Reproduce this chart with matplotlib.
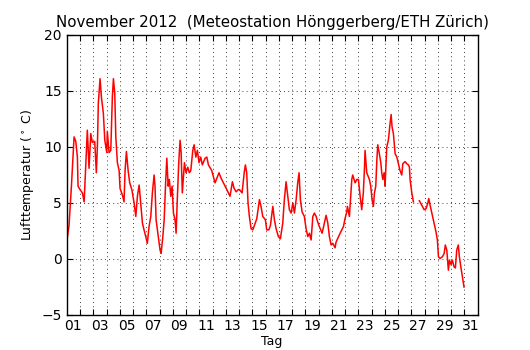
import numpy as np
import matplotlib
matplotlib.use("Agg")
import matplotlib.pyplot as plt

# time in days since 1 Nov 2012 00:00, temperature in deg C
tage = [0.00, 0.17, 0.35, 0.55, 0.68, 0.80, 0.85, 1.00, 1.18, 1.31, 1.43, 1.55, 1.68, 1.81, 1.93,
        2.11, 2.23, 2.31, 2.38, 2.51, 2.61, 2.76, 2.87, 3.02, 3.06, 3.19, 3.32, 3.44, 3.52, 3.62,
        3.70, 3.82, 3.95, 4.02, 4.20, 4.32, 4.40, 4.50, 4.63, 4.75, 4.91, 5.08, 5.21, 5.33, 5.46,
        5.58, 5.71, 5.83, 5.96, 6.08, 6.21, 6.34, 6.46, 6.59, 6.66, 6.74, 6.91, 7.04, 7.12, 7.25,
        7.35, 7.47, 7.55, 7.65, 7.74, 7.85, 7.95, 8.05, 8.17, 8.25, 8.35, 8.45, 8.55, 8.63, 8.72,
        8.80, 8.88, 9.00, 9.13, 9.25, 9.36, 9.51, 9.61, 9.74, 9.86, 9.98, 10.11, 10.23, 10.44,
        10.57, 10.69, 10.94, 11.19, 11.32, 11.49, 11.65, 11.82, 12.08, 12.32, 12.50, 12.63, 12.78,
        12.95, 13.03, 13.23, 13.40, 13.48, 13.58, 13.68, 13.78, 13.91, 14.04, 14.16, 14.34, 14.54,
        14.66, 14.79, 14.99, 15.09, 15.25, 15.37, 15.55, 15.67, 15.80, 15.97, 16.12, 16.30, 16.42,
        16.55, 16.68, 16.80, 16.93, 17.06, 17.18, 17.31, 17.43, 17.53, 17.63, 17.76, 17.93, 18.06,
        18.19, 18.31, 18.44, 18.57, 18.69, 18.82, 18.94, 19.06, 19.27, 19.44, 19.57, 19.70, 19.82,
        19.95, 20.08, 20.25, 20.32, 20.63, 20.88, 21.00, 21.13, 21.18, 21.33, 21.43, 21.51, 21.58,
        21.68, 21.76, 21.89, 22.01, 22.14, 22.26, 22.38, 22.46, 22.51, 22.64, 22.84, 22.94, 23.04,
        23.14, 23.22, 23.32, 23.40, 23.47, 23.59, 23.70, 23.77, 23.85, 23.95, 24.02, 24.10, 24.15,
        24.27, 24.40, 24.48, 24.55, 24.65, 24.78, 24.91, 25.03, 25.15, 25.28, 25.36, 25.53, 25.66,
        25.78, 25.86, 25.91, 26.04, 26.16, 26.40, 26.61, 26.79, 26.97, 27.12, 27.25, 27.32, 27.42,
        27.55, 27.72, 27.87, 27.97, 28.05, 28.17, 28.35, 28.48, 28.57, 28.68, 28.80, 28.88, 29.00,
        29.10, 29.23, 29.33, 29.43, 29.55, 29.63, 29.74, 29.86, 29.98]
temp = [1.55, 3.0, 6.5, 10.9, 10.5, 9.1, 6.5, 6.2, 5.9, 5.1, 8.2, 11.5, 8.1, 11.2, 10.4,
        10.5, 7.7, 10.0, 13.9, 16.1, 14.5, 13.0, 10.6, 9.5, 11.4, 9.5, 9.7, 14.5, 16.1, 14.8,
        10.9, 8.6, 7.9, 6.3, 5.7, 5.1, 7.9, 9.6, 7.9, 6.8, 6.2, 5.0, 3.8, 5.6, 6.6,
        5.0, 3.2, 2.6, 2.0, 1.4, 2.9, 3.8, 5.9, 7.5, 6.5, 3.5, 2.0, 0.8, 0.5, 2.0,
        3.5, 7.1, 9.0, 6.5, 7.1, 5.6, 6.5, 4.1, 3.5, 2.3, 5.6, 8.6, 10.6, 9.5, 5.9,
        7.3, 8.6, 7.7, 8.2, 7.7, 7.9, 9.7, 10.2, 9.1, 9.7, 8.6, 9.1, 8.4, 9.0,
        9.1, 8.4, 7.9, 6.8, 7.2, 7.7, 7.2, 6.8, 6.2, 5.6, 6.9, 6.3, 6.0,
        6.2, 6.2, 5.9, 7.8, 8.4, 7.7, 5.0, 3.8, 2.7, 2.6, 3.0, 3.6, 5.3,
        4.7, 3.8, 3.5, 2.6, 2.6, 3.0, 4.7, 3.5, 2.7, 2.0, 1.8, 3.2, 5.3,
        6.9, 5.6, 4.4, 4.1, 5.0, 4.1, 5.3, 6.8, 7.7, 5.3, 4.2, 3.8, 2.7,
        2.0, 2.3, 1.7, 3.8, 4.1, 3.8, 3.3, 2.9, 2.3, 3.2, 3.9, 3.2, 2.0,
        1.25, 1.4, 1.0, 1.5, 2.3, 2.9, 3.6, 4.2, 4.7, 3.8, 5.6, 7.1, 7.5,
        7.1, 6.8, 7.1, 7.1, 5.6, 4.4, 5.9, 7.9, 9.7, 7.7, 7.1, 6.5, 5.3,
        4.7, 5.9, 6.5, 8.8, 10.2, 9.4, 8.6, 7.7, 7.1, 7.7, 6.5, 8.8, 10.0,
        10.6, 12.1, 12.9, 11.8, 11.2, 9.4, 9.1, 8.5, 7.9, 7.5, 8.5, 8.7, 8.5,
        8.4, 8.2, 7.1, 5.9, 5.1, np.nan, 5.2, 4.8, 4.4, 4.5, 5.0, 5.4, 4.8,
        4.1, 3.2, 2.4, 1.7, 0.2, 0.05, 0.2, 0.5, 1.25, 0.8, -1.0, -0.1, -0.5,
        -0.1, -0.7, -0.8, 0.8, 1.25, 0.2, -0.7, -1.6, -2.5]

tag_labels = ["%02d" % d for d in range(1, 32, 2)]
yticks = [-5, 0, 5, 10, 15, 20]

fig = plt.figure(figsize=(5.3, 3.5), dpi=100)
ax = fig.add_axes([0.126, 0.1, 0.775, 0.8])

ax.plot(tage, temp, color="red", lw=1.1)

ax.set_xlim(0, 31)
ax.set_ylim(-5, 20)
ax.set_yticks(yticks)
# day boundaries carry the ticks and grid, labels sit between them
ax.set_xticks(np.arange(1, 31))
ax.set_xticklabels([])
ax.set_xticks(np.arange(0.5, 31, 2), minor=True)
ax.set_xticklabels(tag_labels, minor=True)
ax.tick_params(axis="x", which="minor", length=0, pad=3, labelsize=10)
ax.tick_params(axis="both", which="major", direction="in", top=True, right=True,
               length=4, width=0.8, labelsize=10)
ax.grid(True, which="major", color="black", linestyle=(0, (1, 4)), linewidth=0.6)

for s in ax.spines.values():
    s.set_linewidth(1.0)

ax.set_title("November 2012  (Meteostation Hönggerberg/ETH Zürich)", fontsize=10.8)
ax.set_xlabel("Tag", fontsize=9, labelpad=1)
ax.set_ylabel(r"Lufttemperatur ($^\circ$ C)", fontsize=9)

fig.savefig("out.png", dpi=100)
